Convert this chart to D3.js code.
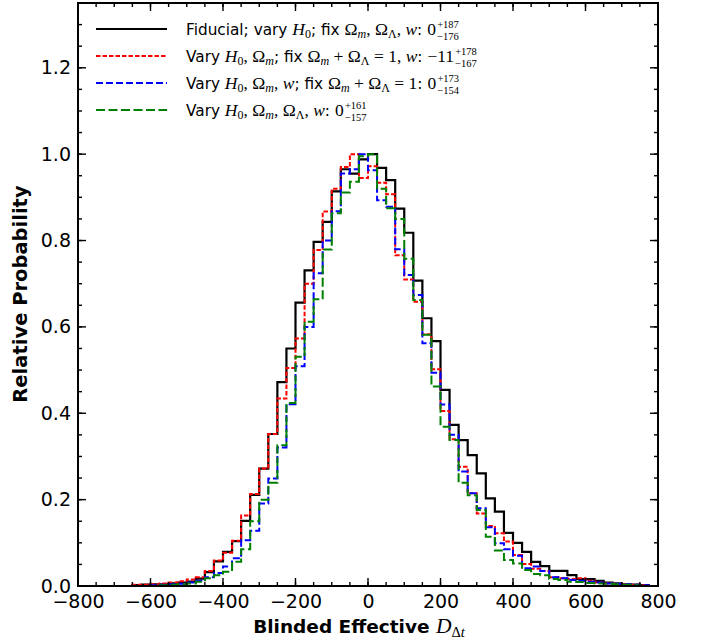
<!DOCTYPE html>
<html>
<head>
<meta charset="utf-8">
<script src="https://cdn.jsdelivr.net/npm/d3@7"></script>
<style>
  html, body { margin: 0; padding: 0; background: #fff; }
  svg { display: block; }
  .tick text { font-family: "DejaVu Sans", sans-serif; font-size: 19px; fill: #000; }
</style>
</head>
<body>
<svg id="chart" width="707" height="639"></svg>
<script>
// ---------------- DATA ----------------
// left edges of histogram bins (bin width 25)
const binEdges = [-650,-625,-600,-575,-550,-525,-500,-475,-450,-425,-400,-375,-350,-325,-300,-275,-250,-225,-200,-175,-150,-125,-100,-75,-50,-25,0,25,50,75,100,125,150,175,200,225,250,275,300,325,350,375,400,425,450,475,500,525,550,575,600,625,650,675,700,725,750,775];

const fiducial = [0.002,0.003,0.004,0.004,0.006,0.008,0.010,0.017,0.032,0.057,0.079,0.104,0.151,0.211,0.272,0.352,0.472,0.550,0.656,0.731,0.797,0.843,0.914,0.965,0.955,0.988,1.000,0.968,0.940,0.874,0.818,0.707,0.620,0.567,0.454,0.373,0.338,0.303,0.261,0.203,0.172,0.123,0.100,0.079,0.056,0.046,0.035,0.035,0.025,0.016,0.016,0.012,0.008,0.006,0.004,0.003,0.002];

const varyH0Om = [0.003,0.003,0.004,0.006,0.008,0.011,0.015,0.020,0.035,0.059,0.077,0.105,0.163,0.213,0.272,0.352,0.434,0.505,0.573,0.700,0.778,0.867,0.920,0.970,1.000,0.945,0.972,0.934,0.907,0.766,0.710,0.658,0.583,0.502,0.405,0.340,0.276,0.215,0.168,0.139,0.122,0.103,0.072,0.051,0.040,0.035,0.020,0.018,0.016,0.018,0.012,0.008,0.006,0.005,0.004,0.003,0.002];

const varyH0OmW = [0,0,0.002,0.003,0.004,0.005,0.008,0.012,0.020,0.030,0.045,0.064,0.106,0.128,0.191,0.249,0.321,0.421,0.509,0.600,0.724,0.800,0.868,0.955,0.965,1.000,0.963,0.893,0.878,0.780,0.720,0.674,0.562,0.494,0.420,0.350,0.265,0.215,0.180,0.136,0.099,0.085,0.070,0.041,0.045,0.035,0.020,0.018,0.014,0.012,0.010,0.008,0.006,0.005,0.004,0.003,0.002];

const varyAll = [0,0,0,0.002,0.003,0.004,0.006,0.010,0.018,0.025,0.033,0.056,0.085,0.150,0.200,0.239,0.326,0.424,0.531,0.612,0.664,0.779,0.863,0.911,0.936,0.995,1.000,0.920,0.875,0.850,0.758,0.662,0.582,0.462,0.369,0.338,0.239,0.210,0.176,0.114,0.082,0.060,0.052,0.037,0.028,0.025,0.016,0.014,0.010,0.009,0.007,0.006,0.005,0.004,0.003,0.002,0];

const seriesColors = ["#000000", "#ff0000", "#0000ff", "#008000"];
const seriesDash = [null, "4.5,2", "7,3", "9,3.5"];

const xTicks = [-800,-600,-400,-200,0,200,400,600,800];
const yTicks = [0.0,0.2,0.4,0.6,0.8,1.0,1.2];
const xDomain = [-800, 800];
const yDomain = [0, 1.35];

// legend: m = "i" (math italic), "r" (math upright), undefined = sans; sub = subscript
const legendLabels = [
  [{t:"Fiducial; vary "},{t:"H",m:"i"},{t:"0",m:"r",sub:1},{t:"; fix "},{t:"Ω",m:"r"},{t:"m",m:"i",sub:1},{t:", ",m:"r"},{t:"Ω",m:"r"},{t:"Λ",m:"r",sub:1},{t:", ",m:"r"},{t:"w",m:"i"},{t:": "},{t:"0",m:"r"}],
  [{t:"Vary "},{t:"H",m:"i"},{t:"0",m:"r",sub:1},{t:", ",m:"r"},{t:"Ω",m:"r"},{t:"m",m:"i",sub:1},{t:"; fix "},{t:"Ω",m:"r"},{t:"m",m:"i",sub:1},{t:" + ",m:"r"},{t:"Ω",m:"r"},{t:"Λ",m:"r",sub:1},{t:" = 1, ",m:"r"},{t:"w",m:"i"},{t:": "},{t:"−11",m:"r"}],
  [{t:"Vary "},{t:"H",m:"i"},{t:"0",m:"r",sub:1},{t:", ",m:"r"},{t:"Ω",m:"r"},{t:"m",m:"i",sub:1},{t:", ",m:"r"},{t:"w",m:"i"},{t:"; fix "},{t:"Ω",m:"r"},{t:"m",m:"i",sub:1},{t:" + ",m:"r"},{t:"Ω",m:"r"},{t:"Λ",m:"r",sub:1},{t:" = 1",m:"r"},{t:": "},{t:"0",m:"r"}],
  [{t:"Vary "},{t:"H",m:"i"},{t:"0",m:"r",sub:1},{t:", ",m:"r"},{t:"Ω",m:"r"},{t:"m",m:"i",sub:1},{t:", ",m:"r"},{t:"Ω",m:"r"},{t:"Λ",m:"r",sub:1},{t:", ",m:"r"},{t:"w",m:"i"},{t:": "},{t:"0",m:"r"}]
];
const legendScripts = [["+187","−176"],["+178","−167"],["+173","−154"],["+161","−157"]];

const xLabelText = "Blinded Effective ";
const yLabelText = "Relative Probability";

// ---------------- CHART ----------------
const W = 707, H = 639;
const margin = {left: 78, right: 49, top: 3, bottom: 53};
const svg = d3.select("#chart");
const x = d3.scaleLinear().domain(xDomain).range([margin.left, W - margin.right]);
const y = d3.scaleLinear().domain(yDomain).range([H - margin.bottom, margin.top]);

svg.append("defs").append("clipPath").attr("id","clip")
  .append("rect").attr("x", x(xDomain[0])).attr("y", y(yDomain[1]))
  .attr("width", x(xDomain[1]) - x(xDomain[0])).attr("height", y(yDomain[0]) - y(yDomain[1]));

const allSeries = [fiducial, varyH0Om, varyH0OmW, varyAll];
const line = d3.line().x(d => x(d[0])).y(d => y(d[1])).curve(d3.curveStepAfter);

const gPlot = svg.append("g").attr("clip-path","url(#clip)");
allSeries.forEach((vals, si) => {
  let first = vals.findIndex(v => v > 0);
  let last = vals.length - 1;
  while (last > 0 && vals[last] <= 0) last--;
  const pts = [[binEdges[first], 0]];
  for (let i = first; i <= last; i++) pts.push([binEdges[i], vals[i]]);
  pts.push([binEdges[last + 1], vals[last]]);
  pts.push([binEdges[last + 1], 0]);
  gPlot.append("path")
    .attr("d", line(pts))
    .attr("fill", "none")
    .attr("stroke", seriesColors[si])
    .attr("stroke-width", si === 0 ? 2.2 : 2)
    .attr("stroke-dasharray", seriesDash[si])
    .attr("stroke-linejoin", "miter");
});

// axes with inward ticks
const xMinor = d3.range(-800, 801, 50);
const yMinor = d3.range(0, 1.351, 0.05);
function tickLines(g, vals, orient, len) {
  vals.forEach(v => {
    if (orient === "bottom") g.append("line").attr("x1", x(v)).attr("x2", x(v)).attr("y1", y(0)).attr("y2", y(0) - len);
    if (orient === "top") g.append("line").attr("x1", x(v)).attr("x2", x(v)).attr("y1", y(yDomain[1])).attr("y2", y(yDomain[1]) + len);
    if (orient === "left") g.append("line").attr("y1", y(v)).attr("y2", y(v)).attr("x1", x(-800)).attr("x2", x(-800) + len);
    if (orient === "right") g.append("line").attr("y1", y(v)).attr("y2", y(v)).attr("x1", x(800)).attr("x2", x(800) - len);
  });
}
const gT = svg.append("g").attr("stroke", "#000").attr("stroke-width", 1.4);
["bottom","top"].forEach(o => { tickLines(gT, xTicks, o, 8); tickLines(gT, xMinor, o, 4); });
["left","right"].forEach(o => { tickLines(gT, yTicks, o, 8); tickLines(gT, yMinor, o, 4); });

// tick labels via d3 axes
const xAxis = d3.axisBottom(x).tickValues(xTicks).tickSize(0).tickPadding(8.5)
  .tickFormat(d => d < 0 ? "−" + Math.abs(d) : String(d));
svg.append("g").attr("transform", `translate(0,${y(0)})`).call(xAxis)
  .call(g => g.select(".domain").remove());
const yAxis = d3.axisLeft(y).tickValues(yTicks).tickSize(0).tickPadding(7)
  .tickFormat(d3.format(".1f"));
svg.append("g").attr("transform", `translate(${x(-800)},0)`).call(yAxis)
  .call(g => g.select(".domain").remove());

// frame
svg.append("rect").attr("x", x(-800)).attr("y", y(yDomain[1]))
  .attr("width", x(800) - x(-800)).attr("height", y(0) - y(yDomain[1]))
  .attr("fill", "none").attr("stroke", "#000").attr("stroke-width", 2);

// axis labels
const xl = svg.append("text").attr("x", 359).attr("y", 633).attr("text-anchor", "middle")
  .attr("fill", "#000");
xl.append("tspan").text(xLabelText).attr("font-family", "DejaVu Sans").attr("font-weight", "bold").attr("font-size", 18.5);
xl.append("tspan").text("D").attr("font-family", "Liberation Serif").attr("font-style", "italic").attr("font-size", 21.5);
xl.append("tspan").text("Δ").attr("font-family", "Liberation Serif").attr("font-size", 14.5).attr("dy", 4);
xl.append("tspan").text("t").attr("font-family", "Liberation Serif").attr("font-style", "italic").attr("font-size", 14.5);

svg.append("text").attr("transform", "translate(27,294) rotate(-90)")
  .attr("text-anchor", "middle").attr("font-family", "DejaVu Sans").attr("font-weight", "bold")
  .attr("font-size", 19.5).attr("fill", "#000").text(yLabelText);

// legend
const legRowY = [29, 56, 83, 110];
const legX1 = 96, legX2 = 167, legTextX = 186;
legendLabels.forEach((segs, i) => {
  const yy = legRowY[i];
  svg.append("line").attr("x1", legX1).attr("x2", legX2).attr("y1", yy).attr("y2", yy)
    .attr("stroke", seriesColors[i]).attr("stroke-width", i === 0 ? 2.2 : 2)
    .attr("stroke-dasharray", seriesDash[i]);
  const t = svg.append("text").attr("x", legTextX).attr("y", yy + 5.5).attr("fill", "#000");
  let shifted = false;
  segs.forEach(s => {
    const sp = t.append("tspan").text(s.t).attr("xml:space", "preserve").style("white-space", "pre");
    if (!s.m) sp.attr("font-family", "DejaVu Sans").attr("font-size", 15.3);
    else {
      sp.attr("font-family", "Liberation Serif").attr("font-size", s.sub ? 12 : 17.5);
      if (s.m === "i") sp.attr("font-style", "italic");
    }
    if (s.sub && !shifted) { sp.attr("dy", 3.5); shifted = true; }
    else if (!s.sub && shifted) { sp.attr("dy", -3.5); shifted = false; }
  });
  const bb = t.node().getBBox();
  const sx = bb.x + bb.width + 1;
  svg.append("text").attr("x", sx).attr("y", yy - 1).attr("font-family", "Liberation Serif")
    .attr("font-size", 10.5).attr("fill", "#000").text(legendScripts[i][0]);
  svg.append("text").attr("x", sx).attr("y", yy + 11).attr("font-family", "Liberation Serif")
    .attr("font-size", 10.5).attr("fill", "#000").text(legendScripts[i][1]);
});
</script>
</body>
</html>
